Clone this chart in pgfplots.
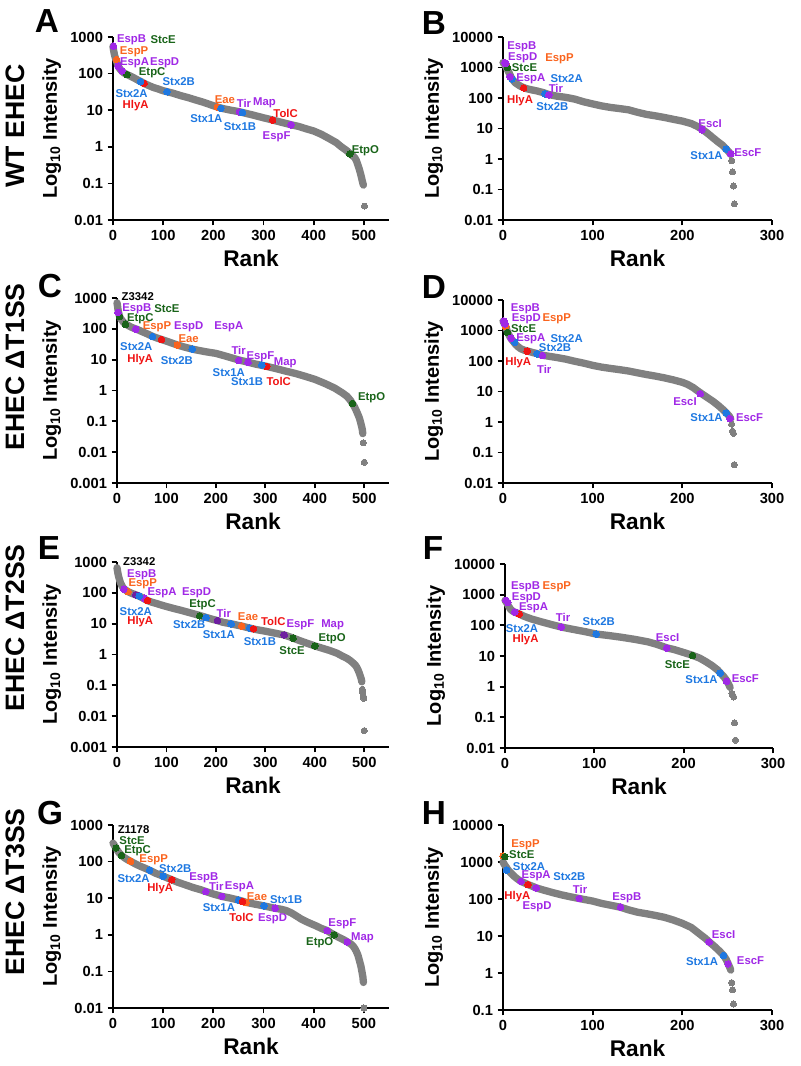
\documentclass[border=0pt]{standalone}
\usepackage{pgfplots}
\pgfplotsset{compat=1.18}
\usepackage{fontspec}
\setmainfont{Liberation Sans}
\definecolor{cpur}{RGB}{160,40,230}
\definecolor{cdpur}{RGB}{110,30,160}
\definecolor{corg}{RGB}{250,100,30}
\definecolor{cblu}{RGB}{30,120,225}
\definecolor{cred}{RGB}{240,20,20}
\definecolor{cgrn}{RGB}{25,100,25}
\definecolor{cgry}{RGB}{128,128,128}
\pgfplotsset{every axis/.append style={
    scale only axis, anchor=south west, clip=false,
    axis lines=left, axis line style={-, line width=1.3pt},
    tick align=outside, major tick length=4pt,
    every tick/.style={line width=1.3pt, black},
    minor tick length=0pt,
    tick label style={font=\fontsize{11}{12}\selectfont\bfseries},
    xlabel={Rank}, ylabel={Log\textsubscript{10} Intensity},
    xlabel style={font=\fontsize{17}{18}\selectfont\bfseries},
    ylabel style={font=\fontsize{15}{17}\selectfont\bfseries},
    xmin=0}}
\tikzset{
  greyband/.style={draw=cgry, line width=5.5pt, line cap=round, line join=round, mark=none},
  greytail/.style={draw=none, mark=*, mark size=2.3pt, mark options={solid, draw=cgry, fill=cgry, line width=0pt}},
  cdot/.style={draw=none, mark=*, mark size=2.5pt, mark options={solid, draw=#1, fill=#1, line width=0pt}},
  lab/.style={font=\fontsize{8.5}{9}\selectfont\bfseries, inner sep=0pt, anchor=center}}
\newcommand{\lab}[4]{\node[lab,text=#1] at (axis cs:#2,#3) {#4};}
\begin{document}
\begin{tikzpicture}
\path[use as bounding box] (0,0) rectangle (600pt,-799.5pt);
\node[font=\fontsize{20}{22}\selectfont\bfseries, rotate=90] at (11.25pt,-94.5pt) {WT EHEC};
\node[font=\fontsize{20}{22}\selectfont\bfseries, rotate=90] at (11.25pt,-275.25pt) {EHEC ΔT1SS};
\node[font=\fontsize{20}{22}\selectfont\bfseries, rotate=90] at (11.25pt,-471pt) {EHEC ΔT2SS};
\node[font=\fontsize{20}{22}\selectfont\bfseries, rotate=90] at (11.25pt,-669pt) {EHEC ΔT3SS};
\node[font=\fontsize{25}{27}\selectfont\bfseries] at (35.25pt,-15.75pt) {A};
\node[font=\fontsize{25}{27}\selectfont\bfseries] at (325.5pt,-17.25pt) {B};
\node[font=\fontsize{25}{27}\selectfont\bfseries] at (37.5pt,-214.5pt) {C};
\node[font=\fontsize{25}{27}\selectfont\bfseries] at (325.5pt,-215.25pt) {D};
\node[font=\fontsize{25}{27}\selectfont\bfseries] at (36.75pt,-411pt) {E};
\node[font=\fontsize{25}{27}\selectfont\bfseries] at (324.75pt,-411pt) {F};
\node[font=\fontsize{25}{27}\selectfont\bfseries] at (37.5pt,-609.75pt) {G};
\node[font=\fontsize{25}{27}\selectfont\bfseries] at (325.5pt,-609.75pt) {H};

% ---------- A ----------
\begin{axis}[ymode=log, at={(84.75pt,-165pt)}, width=207pt, height=137.25pt, xmax=550,
  xtick={0,100,200,300,400,500}, xticklabels={0,100,200,300,400,500},
  ymin=0.01, ymax=1000,
  ytick={0.01,0.1,1,10,100,1000}, yticklabels={0.01,0.1,1,10,100,1000}]
\addplot[greyband] coordinates {(0,560) (1,450) (2,380) (3,320) (4,290) (5,260) (6,240) (8,200) (10,165) (12,145) (15,128) (18,115) (22,104) (28,94) (35,85) (42,76) (50,66) (56,60) (62,54) (70,48) (80,42) (90,38) (100,34) (108,32) (120,29) (135,25) (150,22) (165,19) (180,16.5) (195,14) (208,12.2) (220,11) (235,10) (250,9.2) (265,8.2) (280,7.3) (300,6.2) (318,5.4) (335,4.7) (355,4.0) (370,3.6) (385,3.1) (400,2.7) (415,2.2) (430,1.7) (445,1.3) (455,1.0) (465,0.8) (472,0.66) (478,0.56) (482,0.5) (485,0.42) (488,0.32) (491,0.24) (494,0.17) (496,0.13) (498,0.1) (499,0.09)};
\addplot[greytail] coordinates {(501,0.024)};
\addplot[cdot=cgrn] coordinates {(28,94) (472,0.64)};
\addplot[cdot=corg] coordinates {(7,240) (208,12.2)};
\addplot[cdot=cred] coordinates {(62,54) (318,5.4)};
\addplot[cdot=cpur] coordinates {(1,560) (10,160) (18,118) (252,9.0) (355,4.0)};
\addplot[cdot=cblu] coordinates {(55,60) (108,32) (215,11.2) (258,8.7)};
\lab{cpur}{37}{830}{EspB}
\lab{cgrn}{100}{830}{StcE}
\lab{corg}{42}{390}{EspP}
\lab{cpur}{43}{200}{EspA}
\lab{cpur}{103}{200}{EspD}
\lab{cgrn}{78}{108}{EtpC}
\lab{cblu}{131}{59}{Stx2B}
\lab{cblu}{37}{28}{Stx2A}
\lab{cred}{45}{13.5}{HlyA}
\lab{corg}{223}{19.6}{Eae}
\lab{cpur}{261}{15.8}{Tir}
\lab{cpur}{302}{15.8}{Map}
\lab{cred}{344}{8.1}{TolC}
\lab{cblu}{186}{5.9}{Stx1A}
\lab{cblu}{253}{3.6}{Stx1B}
\lab{cpur}{326}{1.87}{EspF}
\lab{cgrn}{503}{0.78}{EtpO}
\end{axis}

% ---------- B ----------
\begin{axis}[ymode=log, at={(377.25pt,-165pt)}, width=201.75pt, height=137.25pt, xmax=300,
  xtick={0,100,200,300}, xticklabels={0,100,200,300},
  ymin=0.01, ymax=10000,
  ytick={0.01,0.1,1,10,100,1000,10000}, yticklabels={0.01,0.1,1,10,100,1000,10000}]
\addplot[greyband] coordinates {(0,1450) (1,1350) (2,1250) (3,1100) (4,950) (5,850) (6,750) (7,650) (8,560) (9,480) (10,430) (12,360) (14,310) (17,270) (20,240) (23,220) (27,200) (32,185) (38,170) (45,150) (51,130) (60,115) (70,105) (80,92) (90,75) (100,64) (110,55) (120,49) (130,45) (140,41) (150,34) (160,29) (170,26) (180,23) (190,20) (200,17.5) (210,14.5) (216,12) (222,9.5) (228,7) (234,5) (240,3.6) (245,2.8) (249,2.1) (252,1.7) (254,1.4)};
\addplot[greytail] coordinates {(255,0.88) (256,0.38) (257,0.13) (258,0.034)};
\addplot[cdot=corg] coordinates {(4,1200)};
\addplot[cdot=cgrn] coordinates {(5,1000)};
\addplot[cdot=cred] coordinates {(23,215)};
\addplot[cdot=cblu] coordinates {(10,420) (47,137) (249,2.1)};
\addplot[cdot=cpur] coordinates {(2,1450) (3,1350) (8,500) (51,127) (222,9) (254,1.5)};
\lab{cpur}{21}{4900}{EspB}
\lab{cpur}{22}{2050}{EspD}
\lab{corg}{63}{1900}{EspP}
\lab{cgrn}{24}{980}{StcE}
\lab{cpur}{31}{440}{EspA}
\lab{cblu}{71}{440}{Stx2A}
\lab{cpur}{59}{205}{Tir}
\lab{cred}{19}{85}{HlyA}
\lab{cblu}{55}{53}{Stx2B}
\lab{cpur}{231}{14.7}{EscI}
\lab{cblu}{227}{1.3}{Stx1A}
\lab{cpur}{273}{1.58}{EscF}
\end{axis}

% ---------- C ----------
\begin{axis}[ymode=log, at={(87.75pt,-362.25pt)}, width=204pt, height=138.75pt, xmax=550,
  xtick={0,100,200,300,400,500}, xticklabels={0,100,200,300,400,500},
  ymin=0.001, ymax=1000,
  ytick={0.001,0.01,0.1,1,10,100,1000}, yticklabels={0.001,0.01,0.1,1,10,100,1000}]
\addplot[greyband] coordinates {(0,700) (1,560) (2,420) (3,350) (4,300) (5,260) (7,220) (10,190) (13,165) (17,145) (22,130) (28,115) (35,103) (40,97) (50,82) (60,70) (72,57) (80,51) (90,45) (100,40) (110,35) (122,30) (135,26) (152,22) (165,20) (180,18) (200,16) (220,13) (246,9.8) (265,8.3) (280,7.2) (300,6.2) (320,5.2) (340,4.3) (360,3.6) (380,2.9) (400,2.3) (420,1.7) (440,1.2) (455,0.85) (465,0.65) (472,0.48) (476,0.38) (480,0.3) (484,0.22) (487,0.17) (490,0.13) (492,0.1) (494,0.075) (496,0.055) (497,0.04)};
\addplot[greytail] coordinates {(498,0.02) (500,0.0047)};
\addplot[cdot=cgrn] coordinates {(5,250) (17,140) (476,0.38)};
\addplot[cdot=corg] coordinates {(122,30)};
\addplot[cdot=cred] coordinates {(90,45) (303,6.0)};
\addplot[cdot=cblu] coordinates {(72,56) (152,22) (293,6.7)};
\addplot[cdot=cpur] coordinates {(2,340) (38,97) (246,9.5) (265,8.2)};
\lab{black}{42}{1100}{Z3342}
\lab{cpur}{40}{460}{EspB}
\lab{cgrn}{101}{460}{StcE}
\lab{cgrn}{47}{215}{EtpC}
\lab{corg}{81}{117}{EspP}
\lab{cpur}{145}{117}{EspD}
\lab{cpur}{226}{117}{EspA}
\lab{corg}{145}{48}{Eae}
\lab{cblu}{39}{27}{Stx2A}
\lab{cred}{47}{10}{HlyA}
\lab{cblu}{121}{9.4}{Stx2B}
\lab{cpur}{246}{19.6}{Tir}
\lab{cpur}{290}{12.6}{EspF}
\lab{cpur}{340}{8.1}{Map}
\lab{cblu}{226}{3.7}{Stx1A}
\lab{cblu}{263}{2.0}{Stx1B}
\lab{cred}{327}{1.9}{TolC}
\lab{cgrn}{515}{0.57}{EtpO}
\end{axis}

% ---------- D ----------
\begin{axis}[ymode=log, at={(377.25pt,-362.25pt)}, width=201.75pt, height=137.25pt, xmax=300,
  xtick={0,100,200,300}, xticklabels={0,100,200,300},
  ymin=0.01, ymax=10000,
  ytick={0.01,0.1,1,10,100,1000,10000}, yticklabels={0.01,0.1,1,10,100,1000,10000}]
\addplot[greyband] coordinates {(0,2000) (1,1800) (2,1600) (3,1350) (4,1100) (5,900) (6,780) (7,680) (8,600) (9,540) (10,490) (12,420) (14,350) (17,290) (20,250) (24,225) (28,210) (33,190) (38,175) (44,155) (50,145) (60,130) (70,115) (80,98) (90,85) (100,72) (110,63) (120,57) (130,52) (140,47) (150,41) (160,36) (170,32) (180,28) (190,24) (200,20) (206,17) (212,13.5) (217,10.5) (222,8.3) (228,6.3) (234,4.8) (240,3.5) (245,2.6) (249,2.0) (252,1.6) (254,1.3)};
\addplot[greytail] coordinates {(255,0.85) (256,0.5) (257,0.42) (258,0.04)};
\addplot[cdot=corg] coordinates {(3,1350)};
\addplot[cdot=cgrn] coordinates {(5,860)};
\addplot[cdot=cred] coordinates {(27,210)};
\addplot[cdot=cblu] coordinates {(13,410) (38,173) (249,2.0)};
\addplot[cdot=cpur] coordinates {(1,2050) (2,1650) (9,560) (44,152) (220,8.5) (253,1.3)};
\lab{cpur}{25}{5300}{EspB}
\lab{cpur}{26}{2400}{EspD}
\lab{corg}{60}{2400}{EspP}
\lab{cgrn}{23}{1150}{StcE}
\lab{cpur}{31}{540}{EspA}
\lab{cblu}{71}{540}{Stx2A}
\lab{cblu}{58}{265}{Stx2B}
\lab{cred}{17}{91}{HlyA}
\lab{cpur}{46}{55}{Tir}
\lab{cpur}{203}{4.5}{EscI}
\lab{cblu}{227}{1.35}{Stx1A}
\lab{cpur}{275}{1.42}{EscF}
\end{axis}

% ---------- E ----------
\begin{axis}[ymode=log, at={(87.75pt,-560.25pt)}, width=204pt, height=138.75pt, xmax=550,
  xtick={0,100,200,300,400,500}, xticklabels={0,100,200,300,400,500},
  ymin=0.001, ymax=1000,
  ytick={0.001,0.01,0.1,1,10,100,1000}, yticklabels={0.001,0.01,0.1,1,10,100,1000}]
\addplot[greyband] coordinates {(0,650) (1,520) (2,420) (3,350) (5,270) (7,210) (10,170) (13,140) (16,128) (20,115) (25,104) (30,96) (38,86) (45,78) (52,68) (58,60) (62,56) (70,50) (80,45) (90,40) (100,36) (115,31) (130,27) (150,22) (167,18.5) (180,16) (190,14.3) (203,12.6) (215,11) (231,9.9) (245,8.8) (252,8.4) (262,7.6) (270,7.1) (280,6.5) (300,5.7) (320,4.9) (338,4.3) (350,3.7) (356,3.4) (370,2.8) (385,2.3) (400,1.9) (415,1.6) (430,1.35) (445,1.1) (455,0.9) (465,0.75) (472,0.63) (478,0.52) (482,0.45) (485,0.38) (488,0.3) (490,0.25) (492,0.2) (494,0.16) (495,0.13)};
\addplot[greytail] coordinates {(496,0.075) (497,0.058) (498,0.045) (499,0.038) (500,0.0034)};
\addplot[cdot=cgrn] coordinates {(167,18) (356,3.4) (400,1.9)};
\addplot[cdot=corg] coordinates {(22,110) (252,8.4)};
\addplot[cdot=cdpur] coordinates {(38,86) (203,12.6) (338,4.3)};
\addplot[cdot=cpur] coordinates {(14,131) (55,67)};
\addplot[cdot=cblu] coordinates {(45,78) (180,15.8) (231,9.9) (268,7.2)};
\addplot[cdot=cred] coordinates {(62,56) (276,6.8)};
\lab{black}{45}{1000}{Z3342}
\lab{cpur}{50}{400}{EspB}
\lab{corg}{52}{195}{EspP}
\lab{cpur}{91}{103}{EspA}
\lab{cpur}{161}{98}{EspD}
\lab{cgrn}{173}{41}{EtpC}
\lab{cpur}{216}{22}{Tir}
\lab{corg}{265}{17}{Eae}
\lab{cred}{316}{11.7}{TolC}
\lab{cpur}{371}{9.1}{EspF}
\lab{cpur}{436}{9.1}{Map}
\lab{cgrn}{435}{3.16}{EtpO}
\lab{cgrn}{354}{1.3}{StcE}
\lab{cblu}{289}{2.6}{Stx1B}
\lab{cblu}{206}{4.5}{Stx1A}
\lab{cblu}{146}{9.5}{Stx2B}
\lab{cblu}{38}{25}{Stx2A}
\lab{cred}{47}{11.5}{HlyA}
\end{axis}

% ---------- F ----------
\begin{axis}[ymode=log, at={(378.75pt,-561pt)}, width=201pt, height=138pt, xmax=300,
  xtick={0,100,200,300}, xticklabels={0,100,200,300},
  ymin=0.01, ymax=10000,
  ytick={0.01,0.1,1,10,100,1000,10000}, yticklabels={0.01,0.1,1,10,100,1000,10000}]
\addplot[greyband] coordinates {(0,650) (1,600) (2,540) (3,480) (4,420) (5,380) (6,340) (8,300) (10,275) (13,255) (16,235) (20,205) (25,180) (30,160) (40,132) (50,110) (63,88) (75,75) (90,62) (102,52) (115,47) (130,41) (145,35) (160,29) (170,24) (181,18.5) (190,16) (200,13) (210,10.5) (218,8.5) (225,6.5) (232,4.8) (238,3.5) (241,2.8) (245,2.1) (248,1.6) (250,1.25) (252,0.95)};
\addplot[greytail] coordinates {(254,0.6) (255,0.52) (256,0.46) (257,0.066) (258,0.018)};
\addplot[cdot=cgrn] coordinates {(210,10.5)};
\addplot[cdot=cred] coordinates {(16,235)};
\addplot[cdot=cblu] coordinates {(102,52) (241,2.8)};
\addplot[cdot=cpur] coordinates {(1,650) (3,560) (11,270) (63,88) (181,18) (248,1.5)};
\lab{cpur}{23}{1780}{EspB}
\lab{corg}{58}{1780}{EspP}
\lab{cpur}{24}{800}{EspD}
\lab{cpur}{32}{370}{EspA}
\lab{cpur}{65}{180}{Tir}
\lab{cblu}{105}{133}{Stx2B}
\lab{cblu}{19}{81}{Stx2A}
\lab{cred}{23}{35}{HlyA}
\lab{cpur}{182}{40}{EscI}
\lab{cgrn}{193}{5.4}{StcE}
\lab{cblu}{220}{1.66}{Stx1A}
\lab{cpur}{269}{1.78}{EscF}
\end{axis}

% ---------- G ----------
\begin{axis}[ymode=log, at={(84.75pt,-756pt)}, width=207pt, height=137.25pt, xmax=550,
  xtick={0,100,200,300,400,500}, xticklabels={0,100,200,300,400,500},
  ymin=0.01, ymax=1000,
  ytick={0.01,0.1,1,10,100,1000}, yticklabels={0.01,0.1,1,10,100,1000}]
\addplot[greyband] coordinates {(0,320) (2,290) (4,260) (6,235) (9,200) (12,175) (17,148) (22,130) (28,115) (35,102) (45,86) (55,74) (65,65) (73,58) (85,48) (100,40) (110,35) (117,32) (130,27) (145,23) (160,19.5) (175,17) (185,15.2) (200,13) (217,11.2) (235,10) (250,8.9) (258,8.3) (265,7.7) (280,7.0) (300,6.2) (315,5.6) (323,5.3) (335,5.0) (345,4.6) (355,4.0) (365,3.3) (375,2.7) (385,2.3) (395,2.0) (405,1.75) (415,1.5) (427,1.3) (435,1.1) (441,1.0) (450,0.85) (460,0.73) (467,0.64) (474,0.56) (478,0.5) (482,0.42) (485,0.35) (488,0.28) (491,0.2) (494,0.14) (496,0.1) (498,0.07) (499,0.05)};
\addplot[greytail] coordinates {(500,0.01)};
\addplot[cdot=cgrn] coordinates {(6,235) (17,148) (441,1.0)};
\addplot[cdot=corg] coordinates {(35,102) (265,7.6)};
\addplot[cdot=cblu] coordinates {(73,58) (100,40) (250,8.8) (301,6.2)};
\addplot[cdot=cred] coordinates {(117,32) (258,8.2)};
\addplot[cdot=cpur] coordinates {(185,15.2) (217,11.2) (323,5.3) (427,1.3) (467,0.64)};
\lab{black}{41}{740}{Z1178}
\lab{cgrn}{38}{375}{StcE}
\lab{cgrn}{49}{195}{EtpC}
\lab{corg}{81}{115}{EspP}
\lab{cblu}{124}{63}{Stx2B}
\lab{cblu}{41}{34}{Stx2A}
\lab{cred}{94}{18}{HlyA}
\lab{cpur}{181}{36}{EspB}
\lab{cpur}{206}{20.4}{Tir}
\lab{cpur}{252}{20.4}{EspA}
\lab{corg}{287}{11}{Eae}
\lab{cblu}{345}{8.9}{Stx1B}
\lab{cblu}{211}{5.5}{Stx1A}
\lab{cred}{256}{2.96}{TolC}
\lab{cpur}{318}{2.75}{EspD}
\lab{cpur}{457}{1.95}{EspF}
\lab{cpur}{497}{0.85}{Map}
\lab{cgrn}{412}{0.59}{EtpO}
\end{axis}

% ---------- H ----------
\begin{axis}[ymode=log, at={(377.25pt,-757.5pt)}, width=201.75pt, height=138.75pt, xmax=300,
  xtick={0,100,200,300}, xticklabels={0,100,200,300},
  ymin=0.1, ymax=10000,
  ytick={0.1,1,10,100,1000,10000}, yticklabels={0.1,1,10,100,1000,10000}]
\addplot[greyband] coordinates {(0,1000) (1,900) (2,820) (3,760) (4,700) (5,640) (7,560) (10,470) (13,400) (16,350) (20,300) (25,265) (28,245) (33,220) (37,200) (45,175) (55,150) (65,130) (75,115) (85,103) (100,88) (110,76) (120,68) (131,60) (140,51) (150,44) (160,40) (170,36) (180,32) (190,27) (200,22) (210,17) (220,11) (226,8.5) (230,6.9) (236,5.2) (241,4.0) (246,3.0) (249,2.3) (251,1.8) (253,1.4) (254,1.2)};
\addplot[greytail] coordinates {(255,0.55) (256,0.35) (257,0.145)};
\addplot[cdot=corg] coordinates {(0,1450)};
\addplot[cdot=cgrn] coordinates {(2,1400)};
\addplot[cdot=cred] coordinates {(28,245)};
\addplot[cdot=cblu] coordinates {(4,600) (246,3.0)};
\addplot[cdot=cpur] coordinates {(20,300) (37,200) (85,103) (131,60) (230,6.9) (251,1.75)};
\lab{corg}{25}{2850}{EspP}
\lab{cgrn}{21}{1550}{StcE}
\lab{cblu}{29}{770}{Stx2A}
\lab{cpur}{37}{415}{EspA}
\lab{cblu}{74}{415}{Stx2B}
\lab{cred}{16}{120}{HlyA}
\lab{cpur}{38}{63}{EspD}
\lab{cpur}{86}{182}{Tir}
\lab{cpur}{138}{110}{EspB}
\lab{cpur}{246}{11.2}{EscI}
\lab{cblu}{222}{2.0}{Stx1A}
\lab{cpur}{276}{2.2}{EscF}
\end{axis}
\end{tikzpicture}
\end{document}
